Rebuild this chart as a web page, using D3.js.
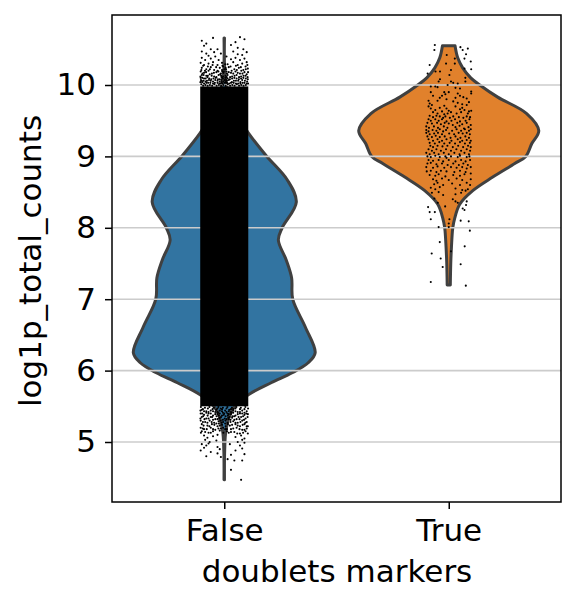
<!DOCTYPE html>
<html><head><meta charset="utf-8">
<script src="https://cdn.jsdelivr.net/npm/d3@7"></script>
<style>html,body{margin:0;padding:0;background:#fff}svg{display:block}text{font-family:"DejaVu Sans";fill:#000}</style>
</head><body><svg id="c" width="577" height="604"></svg>
<script>
const categories = ["False", "True"];
const colors = ["#3274a1", "#e1812c"];
const yTicks = [5, 6, 7, 8, 9, 10];
const falseLevels = [10.66,10.07,9.79,9.51,9.33,9.01,8.67,8.36,8.0,7.83,7.55,7.3,7.0,6.61,6.25,6.11,5.97,5.83,5.66,5.45,5.17,4.89,4.47];
const falseWidths = [.001,.006,.03,.071,.107,.187,.281,.321,.258,.241,.276,.3,.305,.361,.405,.374,.303,.209,.107,.035,.008,.002,.001];
const trueLevels = [10.55,10.38,10.24,10.10,10.0,9.83,9.6,9.36,9.18,9.0,8.9,8.71,8.52,8.33,8.14,8.0,7.73,7.51,7.2];
const trueWidths = [.028,.04,.062,.098,.138,.218,.347,.401,.37,.343,.294,.196,.107,.049,.027,.018,.012,.009,.007];
const falseBand = [5.5, 9.98];
const falseBandJitter = [-.107, .107];
const falseTopPoints = [[-.1,10.62],[-.08,10.58],[-.05,10.66],[-.09,10.55],[.07,10.67],[.09,10.64],[.05,10.6],[.03,10.56],[.06,10.52],[-.06,10.5],[-.1,10.47],[-.08,10.44],[-.07,10.41],[-.045,10.46],[-.03,10.5],[-.015,10.44],[.04,10.47],[.06,10.43],[.085,10.5],[.08,10.42],[.1,10.46],[-.1,10.38],[-.085,10.35],[-.06,10.37],[-.04,10.4],[-.025,10.35],[.01,10.4],[.03,10.36],[.05,10.38],[.07,10.35],[.09,10.37],[.1,10.32],[-.105,10.31],[-.09,10.28],[-.07,10.3],[-.05,10.32],[-.03,10.28],[-.01,10.31],[.015,10.29],[.04,10.32],[.06,10.28],[.08,10.3],[.095,10.26],[-.1,10.24],[-.08,10.22],[-.06,10.25],[-.045,10.21],[-.02,10.24],[0,10.22],[.02,10.25],[.045,10.22],[.065,10.24],[.085,10.21],[.105,10.23],[-.105,10.19],[-.09,10.17],[-.07,10.2],[-.055,10.16],[-.035,10.18],[-.015,10.16],[.01,10.19],[.03,10.17],[.05,10.19],[.07,10.16],[.09,10.18],[.1,10.15],[-.1,10.14],[-.08,10.13],[-.065,10.15],[-.045,10.12],[-.025,10.14],[-.005,10.12],[.015,10.14],[.035,10.12],[.055,10.14],[.075,10.12],[.095,10.13],[-.105,10.1],[-.09,10.09],[-.075,10.11],[-.058,10.08],[-.038,10.1],[-.02,10.08],[.005,10.1],[.025,10.08],[.045,10.1],[.065,10.08],[.085,10.1],[.105,10.08],[-.1,10.06],[-.083,10.05],[-.068,10.07],[-.05,10.05],[-.03,10.06],[-.012,10.04],[.012,10.06],[.034,10.04],[.052,10.06],[.072,10.04],[.092,10.06],[-.106,10.04],[-.09,10.02],[-.072,10.03],[-.042,10.03],[-.022,10.02],[.003,10.03],[.022,10.02],[.042,10.03],[.062,10.02],[.082,10.03],[.1,10.02]];
const falseTopDense = [[-.094,10.27],[-.073,10.26],[-.052,10.28],[-.036,10.25],[-.008,10.27],[.028,10.26],[.052,10.27],[.074,10.25],[.103,10.28],[-.102,10.21],[-.086,10.2],[-.064,10.22],[-.03,10.2],[-.01,10.21],[.008,10.22],[.033,10.2],[.056,10.21],[.076,10.2],[.096,10.22],[-.097,10.16],[-.081,10.18],[-.046,10.17],[-.026,10.19],[-.004,10.17],[.02,10.18],[.04,10.16],[.06,10.17],[.081,10.16],[.106,10.18],[-.106,10.12],[-.092,10.14],[-.073,10.13],[-.056,10.13],[-.035,10.11],[-.014,10.13],[.006,10.13],[.026,10.11],[.046,10.13],[.066,10.11],[.086,10.13],[.104,10.11],[-.098,10.1],[-.083,10.09],[-.067,10.09],[-.048,10.09],[-.028,10.08],[-.01,10.1],[.015,10.09],[.035,10.09],[.055,10.09],[.075,10.09],[.096,10.09],[-.104,10.07],[-.092,10.06],[-.077,10.06],[-.06,10.06],[-.04,10.07],[-.02,10.05],[.002,10.07],[.02,10.07],[.043,10.06],[.062,10.06],[.08,10.07],[.102,10.05],[-.098,10.04],[-.08,10.03],[-.062,10.03],[-.05,10.02],[-.03,10.03],[-.008,10.02],[.012,10.03],[.03,10.03],[.052,10.02],[.072,10.02],[.09,10.03],[.106,10.02],[-.102,10.01],[-.084,10.0],[-.064,10.0],[-.044,10.01],[-.024,10.0],[-.004,10.0],[.016,10.01],[.036,10.0],[.056,10.01],[.076,10.0],[.096,10.0],[-.094,9.99],[-.074,9.99],[-.054,9.99],[-.034,9.99],[-.014,9.99],[.006,9.99],[.026,9.99],[.046,9.99],[.066,9.99],[.086,9.99],[-.018,10.15],[.012,10.16],[-.012,10.11],[.011,10.11],[-.006,10.09],[.008,10.07],[-.013,10.07],[-.004,10.05],[.007,10.04],[-.016,10.02],[-.002,10.19],[.006,10.24],[-.009,10.19],[-.005,10.26],[.004,10.29]];
const falseBottomPoints = [[-.1,5.45],[-.08,5.43],[-.06,5.44],[-.04,5.42],[-.02,5.44],[.02,5.43],[.04,5.44],[.06,5.42],[.08,5.44],[.1,5.43],[-.105,5.4],[-.09,5.38],[-.07,5.4],[-.05,5.37],[-.03,5.39],[-.01,5.37],[.03,5.39],[.05,5.37],[.07,5.4],[.09,5.38],[.105,5.39],[-.1,5.35],[-.08,5.33],[-.06,5.35],[-.04,5.32],[-.02,5.34],[.01,5.32],[.035,5.34],[.055,5.32],[.075,5.35],[.095,5.33],[-.105,5.3],[-.085,5.28],[-.065,5.3],[-.045,5.27],[-.025,5.29],[.015,5.27],[.04,5.29],[.06,5.27],[.08,5.3],[.1,5.28],[-.1,5.25],[-.075,5.23],[-.055,5.25],[-.03,5.22],[.025,5.23],[.05,5.25],[.07,5.22],[.09,5.25],[.105,5.22],[-.105,5.2],[-.09,5.18],[-.06,5.2],[-.04,5.17],[-.015,5.19],[.03,5.18],[.055,5.2],[.08,5.17],[.1,5.19],[-.1,5.15],[-.07,5.13],[-.05,5.15],[.02,5.13],[.045,5.14],[.07,5.12],[.095,5.15],[-.09,5.09],[-.075,5.06],[-.05,5.08],[-.03,5.1],[.05,5.07],[.075,5.09],[.09,5.05],[-.085,5.03],[-.065,5.0],[-.035,5.02],[.06,5.0],[.08,5.03],[-.1,4.97],[-.08,4.95],[-.07,4.98],[-.03,4.93],[.025,4.97],[.07,4.95],[.09,4.99],[-.105,4.88],[-.09,4.92],[-.06,4.86],[-.03,4.84],[-.02,4.9],[.03,4.82],[.05,4.88],[.08,4.91],[-.08,4.8],[-.015,4.79],[.015,4.76],[.045,4.74],[.08,4.74],[.09,4.83],[.075,4.47],[.03,4.61]];
const falseBottomDense = [[-.104,5.49],[-.086,5.48],[-.066,5.49],[-.046,5.48],[-.026,5.49],[-.006,5.48],[.014,5.49],[.034,5.48],[.054,5.49],[.074,5.48],[.094,5.49],[-.095,5.46],[-.073,5.47],[-.052,5.46],[-.03,5.47],[-.01,5.46],[.01,5.47],[.03,5.46],[.05,5.47],[.07,5.46],[.09,5.46],[.106,5.47],[-.106,5.44],[-.09,5.43],[-.07,5.42],[-.05,5.43],[-.03,5.42],[-.01,5.43],[.01,5.42],[.03,5.42],[.05,5.43],[.07,5.42],[.09,5.41],[-.098,5.4],[-.08,5.41],[-.06,5.4],[-.04,5.39],[-.02,5.4],[0,5.4],[.02,5.39],[.04,5.41],[.06,5.39],[.08,5.4],[.098,5.4],[-.094,5.36],[-.074,5.37],[-.054,5.35],[-.034,5.36],[-.014,5.35],[.006,5.36],[.024,5.35],[.044,5.36],[.064,5.35],[.084,5.36],[.104,5.35],[-.106,5.33],[-.088,5.32],[-.07,5.33],[-.05,5.31],[-.03,5.32],[-.006,5.31],[.02,5.32],[.045,5.31],[.068,5.32],[.088,5.31],[-.095,5.28],[-.075,5.27],[-.056,5.28],[-.035,5.26],[-.012,5.27],[.028,5.28],[.05,5.27],[.072,5.28],[.094,5.27],[-.092,5.23],[-.066,5.22],[-.044,5.24],[-.02,5.23],[.035,5.24],[.06,5.23],[.082,5.24],[.1,5.22],[-.096,5.19],[-.078,5.18],[-.05,5.18],[-.026,5.19],[.012,5.18],[.04,5.19],[.068,5.18],[.09,5.17],[-.104,5.13],[-.085,5.14],[-.06,5.13],[.03,5.14],[.058,5.12],[.084,5.13],[.105,5.12],[-.036,5.45],[-.016,5.47],[.004,5.44],[.022,5.45],[.04,5.46],[-.028,5.41],[-.006,5.41],[.014,5.4],[.033,5.41],[-.024,5.37],[-.002,5.38],[.016,5.37],[.036,5.36],[-.022,5.33],[.002,5.33],[.018,5.34],[.028,5.31],[-.016,5.3],[.005,5.3],[-.005,5.28],[.004,5.26],[-.024,5.26],[.016,5.25],[-.01,5.24],[.006,5.22],[-.005,5.2],[.004,5.18],[-.02,5.16],[.012,5.15],[-.004,5.13]];
const truePoints = [[-.062,10.56],[-.064,10.49],[.052,10.53],[.085,10.51],[.062,10.49],[.077,10.43],[.07,10.37],[.098,10.33],[-.009,10.42],[.027,10.37],[-.012,10.3],[.027,10.3],[-.085,10.28],[.1,10.22],[.07,10.23],[-.094,10.16],[-.059,10.19],[-.039,10.19],[.01,10.21],[.003,10.14],[.074,10.1],[-.039,10.08],[-.045,10.05],[.074,10.05],[.01,10.05],[.02,10.03],[.04,10.02],[-.005,10.0],[-.08,9.98],[-.06,9.98],[-.05,9.97],[.03,9.96],[.05,9.95],[.1,9.91],[.1,9.88],[-.08,9.9],[-.07,9.85],[-.02,9.9],[-.015,9.87],[-.03,9.85],[.0,9.9],[.04,9.88],[.05,9.85],[.065,9.83],[.08,9.81],[-.04,9.82],[-.01,9.8],[.03,9.82],[.09,9.76],[-.09,9.78],[-.085,9.74],[-.075,9.72],[-.05,9.78],[.04,9.75],[.02,9.77],[.06,9.73],[.08,9.72],[-.09,9.7],[-.08,9.67],[-.04,9.68],[-.02,9.71],[-.01,9.67],[.0,9.64],[.03,9.7],[.05,9.66],[.06,9.68],[.07,9.65],[.09,9.63],[-.07,9.62],[-.06,9.65],[-.05,9.6],[-.03,9.63],[-.02,9.59],[-.005,9.6],[.01,9.62],[.035,9.6],[.055,9.62],[.085,9.6],[.1,9.64],[-.085,9.57],[-.07,9.55],[-.055,9.57],[-.04,9.56],[-.025,9.54],[-.015,9.56],[.005,9.54],[.02,9.56],[.045,9.55],[.065,9.54],[.08,9.56],[.095,9.55],[-.09,9.52],[-.08,9.5],[-.06,9.52],[-.045,9.5],[-.03,9.52],[-.01,9.49],[.012,9.5],[.028,9.52],[.05,9.49],[.075,9.5],[.092,9.52],[-.095,9.47],[-.075,9.46],[-.052,9.47],[-.035,9.45],[-.018,9.47],[.0,9.46],[.018,9.44],[.038,9.47],[.06,9.45],[.08,9.47],[.098,9.44],[-.1,9.42],[-.088,9.4],[-.066,9.42],[-.048,9.4],[-.022,9.42],[-.006,9.4],[.03,9.41],[.048,9.43],[.068,9.39],[.088,9.41],[-.1,9.37],[-.09,9.35],[-.072,9.37],[-.055,9.36],[-.04,9.38],[-.025,9.35],[-.012,9.37],[.015,9.36],[.035,9.38],[.055,9.36],[.072,9.38],[.09,9.36],[.098,9.38],[-.1,9.33],[-.085,9.31],[-.065,9.32],[-.048,9.33],[-.03,9.31],[.002,9.32],[.024,9.31],[.044,9.33],[.062,9.32],[.08,9.33],[.094,9.31],[-.095,9.28],[-.075,9.27],[-.058,9.29],[-.04,9.27],[-.018,9.28],[.008,9.26],[.03,9.28],[.052,9.26],[.074,9.28],[.09,9.26],[-.09,9.24],[-.07,9.22],[-.05,9.24],[-.03,9.22],[-.01,9.24],[.012,9.22],[.04,9.24],[.06,9.22],[.08,9.23],[.098,9.22],[-.085,9.19],[-.062,9.18],[-.042,9.2],[-.02,9.18],[.004,9.19],[.028,9.18],[.05,9.2],[.072,9.18],[.094,9.19],[-.082,9.15],[-.07,9.13],[-.05,9.15],[-.028,9.14],[-.006,9.15],[.018,9.13],[.042,9.15],[.064,9.13],[.086,9.15],[.098,9.13],[-.09,9.1],[-.075,9.08],[-.055,9.1],[-.035,9.08],[-.012,9.1],[.01,9.08],[.034,9.1],[.055,9.08],[.08,9.1],[.095,9.08],[-.1,9.05],[-.085,9.03],[-.065,9.05],[-.045,9.03],[-.022,9.05],[.0,9.03],[.025,9.05],[.048,9.03],[.07,9.05],[.09,9.03],[-.095,9.0],[-.08,8.99],[-.06,9.01],[-.04,8.99],[-.015,9.0],[-.01,8.98],[.01,9.0],[.04,8.99],[.05,9.01],[.08,8.99],[.092,9.0],[-.09,8.95],[-.07,8.94],[-.045,8.95],[-.025,8.93],[.0,8.95],[.03,8.93],[.055,8.95],[.075,8.93],[.095,8.95],[-.095,8.9],[-.08,8.91],[-.055,8.89],[-.03,8.9],[-.005,8.88],[.02,8.9],[.045,8.88],[.065,8.9],[.085,8.88],[-.1,8.85],[-.07,8.84],[-.05,8.86],[-.02,8.84],[.01,8.85],[.035,8.84],[.06,8.85],[.08,8.83],[.098,8.85],[-.098,8.79],[-.08,8.8],[-.055,8.78],[-.035,8.8],[-.01,8.79],[.025,8.78],[.05,8.8],[.075,8.78],[.098,8.76],[-.085,8.74],[-.06,8.73],[-.045,8.75],[-.015,8.72],[.02,8.74],[.05,8.73],[.07,8.75],[-.07,8.68],[-.055,8.66],[-.03,8.69],[.0,8.67],[.035,8.69],[.06,8.67],[.098,8.68],[-.065,8.61],[-.05,8.63],[-.025,8.6],[.015,8.62],[.05,8.6],[.08,8.63],[.095,8.6],[-.08,8.56],[-.06,8.54],[-.04,8.57],[.03,8.55],[.06,8.53],[.075,8.52],[.085,8.54],[-.075,8.49],[-.045,8.5],[-.025,8.46],[.03,8.47],[.055,8.49],[-.064,8.41],[.018,8.4],[.03,8.37],[.04,8.35],[.08,8.37],[-.049,8.35],[.077,8.32],[-.016,8.3],[-.092,8.29],[.062,8.27],[.07,8.25],[-.085,8.22],[-.062,8.22],[-.08,8.12],[.053,8.1],[.089,8.09],[.003,8.12],[0,8.06],[-.045,8.01],[0,8.01],[.094,7.96],[-.04,7.8],[.071,7.74],[.01,7.67],[-.076,7.64],[-.036,7.57],[.053,7.49],[-.027,7.45],[-.08,7.24],[.076,7.19]];

const svg = d3.select("#c");
const plotTop = 15, plotBottom = 502, plotLeft = 112, plotRight = 561;
const x = d3.scaleLinear().domain([-0.5, 1.5]).range([plotLeft, plotRight]);
const y = d3.scaleLinear().domain([5, 10]).range([442, 85]);

function violin(i, levels, widths) {
  const w = x(1) - x(0);
  const idx = d3.range(levels.length);
  const leftSide = idx.map(d => [x(i) - widths[d] * w, y(levels[d])]);
  const rightSide = idx.map(d => [x(i) + widths[d] * w, y(levels[d])]).reverse();
  const line = d3.line().curve(d3.curveCatmullRom.alpha(0.5));
  const path = line(leftSide) + "L" + line(rightSide).slice(1) + "Z";
  svg.append("path").attr("d", path).attr("fill", colors[i]).attr("stroke", "#404040").attr("stroke-width", 3).attr("stroke-linejoin", "round");
}
violin(0, falseLevels, falseWidths);
violin(1, trueLevels, trueWidths);

svg.append("g").selectAll("line").data(yTicks).join("line")
  .attr("x1", plotLeft).attr("x2", plotRight).attr("y1", d => y(d)).attr("y2", d => y(d))
  .attr("stroke", "#cccccc").attr("stroke-width", 1.6);

svg.append("rect").attr("x", x(falseBandJitter[0])).attr("width", x(falseBandJitter[1]) - x(falseBandJitter[0]))
  .attr("y", y(falseBand[1])).attr("height", y(falseBand[0]) - y(falseBand[1])).attr("fill", "#000");
function pts(list, c) {
  svg.append("g").selectAll("circle").data(list).join("circle")
    .attr("cx", d => x(c + d[0])).attr("cy", d => y(d[1])).attr("r", 1.05).attr("fill", "#000");
}
pts(falseTopPoints, 0);
pts(falseTopDense, 0);
pts(falseBottomPoints, 0);
pts(falseBottomDense, 0);
pts(truePoints, 1);

svg.append("rect").attr("x", plotLeft).attr("y", plotTop).attr("width", plotRight - plotLeft).attr("height", plotBottom - plotTop)
  .attr("fill", "none").attr("stroke", "#000").attr("stroke-width", 1.5);

const fs = 31;
const ax = svg.append("g").attr("transform", `translate(${plotLeft},0)`)
  .call(d3.axisLeft(y).tickValues(yTicks).tickSize(7).tickPadding(9).tickFormat(d3.format("d")));
const bx = svg.append("g").attr("transform", `translate(0,${plotBottom})`)
  .call(d3.axisBottom(x).tickValues([0, 1]).tickSize(7).tickPadding(10).tickFormat(d => categories[d]));
[ax, bx].forEach(g => {
  g.select(".domain").remove();
  g.selectAll("line").attr("stroke", "#000").attr("stroke-width", 1.5);
  g.selectAll("text").style("font-size", fs + "px").style("font-family", '"DejaVu Sans"');
});
svg.append("text").attr("x", 337).attr("y", 582).attr("text-anchor", "middle").style("font-size", fs + "px").text("doublets markers");
svg.append("text").attr("transform", "translate(41,261) rotate(-90)").attr("text-anchor", "middle").style("font-size", fs + "px").text("log1p_total_counts");
</script></body></html>
